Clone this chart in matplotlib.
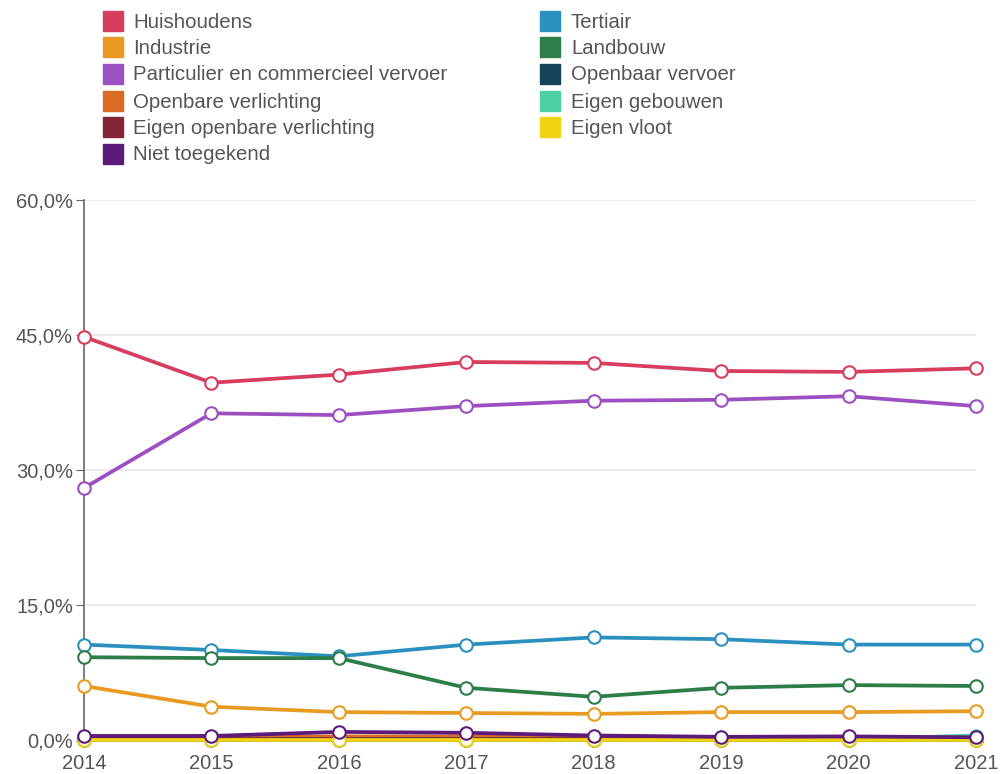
import numpy as np
import matplotlib.pyplot as plt
from matplotlib.patches import Rectangle
from matplotlib.ticker import FuncFormatter

plt.rcParams['font.family'] = ['Liberation Sans', 'DejaVu Sans']

jaren = [2014, 2015, 2016, 2017, 2018, 2019, 2020, 2021]

# aandeel per sector (%)
huishoudens = [44.8, 39.7, 40.6, 42.0, 41.9, 41.0, 40.9, 41.3]
tertiair = [10.6, 10.0, 9.3, 10.6, 11.4, 11.2, 10.6, 10.6]
industrie = [6.0, 3.7, 3.1, 3.0, 2.9, 3.1, 3.1, 3.2]
landbouw = [9.2, 9.1, 9.1, 5.8, 4.8, 5.8, 6.1, 6.0]
particulier = [28.0, 36.3, 36.1, 37.1, 37.7, 37.8, 38.2, 37.1]
openbaar_vervoer = [0.0, 0.0, 0.0, 0.0, 0.0, 0.0, 0.0, 0.0]
openbare_verlichting = [0.3, 0.3, 0.4, 0.4, 0.3, 0.25, 0.25, 0.2]
eigen_gebouwen = [0.1, 0.1, 0.1, 0.1, 0.1, 0.1, 0.1, 0.5]
eigen_openbare_verlichting = [0.15, 0.15, 0.15, 0.15, 0.15, 0.15, 0.15, 0.15]
eigen_vloot = [0.05, 0.05, 0.05, 0.05, 0.05, 0.05, 0.05, 0.05]
niet_toegekend = [0.45, 0.45, 0.9, 0.8, 0.5, 0.35, 0.4, 0.3]

series = [
    ('Huishoudens', huishoudens, '#d63d5e'),
    ('Tertiair', tertiair, '#2b90bf'),
    ('Industrie', industrie, '#e89a23'),
    ('Landbouw', landbouw, '#2c7d47'),
    ('Particulier en commercieel vervoer', particulier, '#9b4fc0'),
    ('Openbaar vervoer', openbaar_vervoer, '#17435a'),
    ('Openbare verlichting', openbare_verlichting, '#d96b24'),
    ('Eigen gebouwen', eigen_gebouwen, '#4dcfa5'),
    ('Eigen openbare verlichting', eigen_openbare_verlichting, '#832637'),
    ('Eigen vloot', eigen_vloot, '#f0d313'),
    ('Niet toegekend', niet_toegekend, '#5c1a7a'),
]

W, H = 1003, 774
fig = plt.figure(figsize=(W / 100, H / 100), dpi=100)
ax = fig.add_axes([84 / W, 1 - 740 / H, (976 - 84) / W, (740 - 200) / H])

for naam, waarden, kleur in series:
    ax.plot(jaren, waarden, color=kleur, lw=2.7, marker='o', markersize=9,
            markerfacecolor='white', markeredgecolor=kleur, markeredgewidth=1.5,
            clip_on=False, zorder=3)

ax.set_xlim(2014, 2021)
ax.set_ylim(0, 60)
ax.set_yticks([0, 15, 30, 45, 60])
ax.yaxis.set_major_formatter(FuncFormatter(lambda v, p: f'{v:.1f}%'.replace('.', ',')))
ax.set_xticks(jaren)
ax.grid(axis='y', color='#e6e6e6', lw=1.2)
ax.set_axisbelow(True)
for s in ['top', 'right', 'bottom']:
    ax.spines[s].set_visible(False)
ax.spines['left'].set_color('#666666')
ax.spines['left'].set_linewidth(1.2)
ax.tick_params(axis='y', length=6, color='#666666', labelcolor='#555555', labelsize=14.5, pad=2)
ax.tick_params(axis='x', length=5, color='#999999', labelcolor='#555555', labelsize=14.5, pad=5)

# legenda, twee kolommen
rijen_y = [21, 47, 74, 101, 127, 154]
for i, (naam, waarden, kleur) in enumerate(series):
    kol = i % 2
    rij = i // 2
    xs = 103 if kol == 0 else 540
    xt = 133 if kol == 0 else 571
    yc = rijen_y[rij]
    fig.patches.append(Rectangle((xs / W, 1 - (yc + 10) / H), 20 / W, 20 / H,
                                 transform=fig.transFigure, color=kleur))
    fig.text(xt / W, 1 - (yc + 1) / H, naam, fontsize=14.7, color='#555555', va='center')

fig.savefig('out.png', dpi=100)
